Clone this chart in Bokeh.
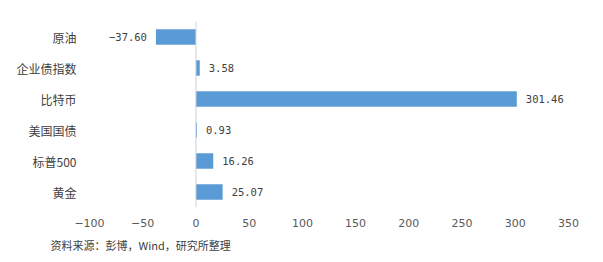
from bokeh.plotting import figure
from bokeh.models import ColumnDataSource, FactorRange, Range1d, Span, Title, FixedTicker
from bokeh.core.properties import value
from bokeh.embed import file_html
from bokeh.resources import INLINE

# Asset returns (%), listed top to bottom
assets = ["原油", "企业债指数", "比特币", "美国国债", "标普500", "黄金"]
returns = [-37.60, 3.58, 301.46, 0.93, 16.26, 25.07]
x_ticks = [-100, -50, 0, 50, 100, 150, 200, 250, 300, 350]
source_note = "资料来源：彭博，Wind，研究所整理"

cjk = "Noto Sans CJK SC"


def fmt(v):
    s = "%.2f" % abs(v)
    return ("\u2212" + s) if v < 0 else s


src = ColumnDataSource(dict(
    asset=assets,
    ret=returns,
    label=[fmt(v) for v in returns],
    align=["right" if v < 0 else "left" for v in returns],
    xoff=[-9 if v < 0 else 9 for v in returns],
))

p = figure(
    width=603, height=262,
    y_range=FactorRange(factors=assets[::-1], range_padding=0),
    x_range=Range1d(-100, 350),
    output_backend="svg", toolbar_location=None,
    min_border_left=89, min_border_right=35,
    min_border_top=21, min_border_bottom=55,
)
p.outline_line_color = None
p.background_fill_color = "white"
p.border_fill_color = "white"
p.xgrid.grid_line_color = None
p.ygrid.grid_line_color = None

p.hbar(y="asset", right="ret", left=0, height=0.5, source=src,
       fill_color="#5B9BD5", line_color=None)

p.add_layout(Span(location=0, dimension="height", line_color="#c9d3dd", line_width=1))

p.text(x="ret", y="asset", text="label", source=src,
       text_align="align", x_offset="xoff", text_baseline="middle",
       text_font=value("DejaVu Sans Mono"), text_font_size="10.5px",
       text_color="#404040")

# Axes: labels only, no lines or ticks
p.xaxis.ticker = FixedTicker(ticks=x_ticks)
p.xaxis.axis_line_color = None
p.xaxis.major_tick_line_color = None
p.xaxis.minor_tick_line_color = None
p.xaxis.major_label_text_font = "DejaVu Sans"
p.xaxis.major_label_text_font_size = "11px"
p.xaxis.major_label_text_color = "#595959"
p.xaxis.major_label_standoff = 5

p.yaxis.axis_line_color = None
p.yaxis.major_tick_line_color = None
p.yaxis.minor_tick_line_color = None
p.yaxis.major_label_text_font = cjk
p.yaxis.major_label_text_font_size = "12px"
p.yaxis.major_label_text_color = "#404040"
p.yaxis.major_label_standoff = 7

# Source note below the chart
p.add_layout(Title(text=source_note, align="left", offset=-39, standoff=10,
                   text_font=cjk, text_font_size="11px", text_font_style="normal",
                   text_color="#404040"), "below")

open("out.html", "w").write(file_html(p, INLINE))
